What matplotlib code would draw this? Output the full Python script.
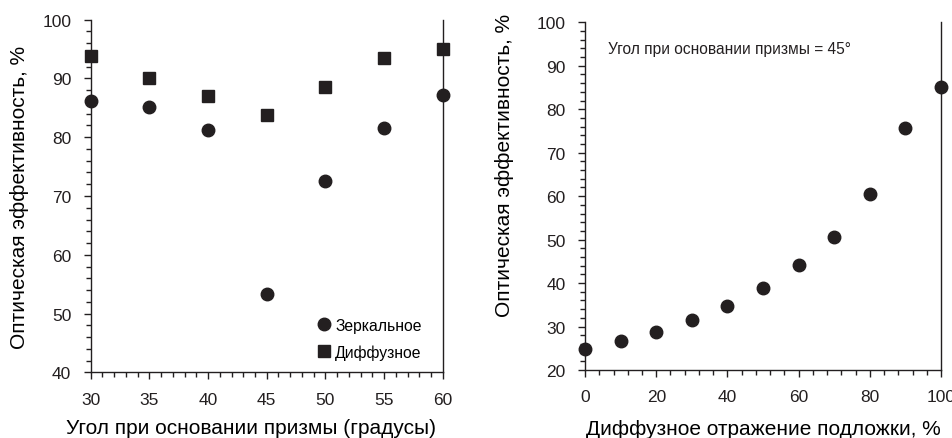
import matplotlib
matplotlib.use("Agg")
import matplotlib.pyplot as plt
from matplotlib.ticker import MultipleLocator

plt.rcParams['font.family'] = ['Liberation Sans', 'DejaVu Sans']

# left panel: prism base angle vs optical efficiency
angles = [30, 35, 40, 45, 50, 55, 60]
mirror = [86.1, 85.1, 81.3, 53.3, 72.5, 81.5, 87.2]
diffuse = [93.8, 90.1, 87.0, 83.7, 88.6, 93.5, 94.95]

# right panel: diffuse reflectance of substrate vs efficiency
reflect = [0, 10, 20, 30, 40, 50, 60, 70, 80, 90, 100]
eff45 = [24.9, 26.7, 28.8, 31.4, 34.7, 38.9, 44.2, 50.6, 60.4, 75.6, 85.2]

c = '#231f20'
fig = plt.figure(figsize=(9.53, 4.39), dpi=100)
ax1 = fig.add_axes([0.0952, 0.1497, 0.3694, 0.8031])
ax2 = fig.add_axes([0.6139, 0.1549, 0.3736, 0.7920])

ax1.plot(angles, mirror, 'o', color=c, ms=9, clip_on=False, zorder=3, label='Зеркальное')
ax1.plot(angles, diffuse, 's', color=c, ms=9, clip_on=False, zorder=3, label='Диффузное')
ax1.set_xlim(30, 60)
ax1.set_ylim(40, 100)
ax1.xaxis.set_major_locator(MultipleLocator(5))
ax1.xaxis.set_minor_locator(MultipleLocator(1))
ax1.yaxis.set_major_locator(MultipleLocator(10))
ax1.yaxis.set_minor_locator(MultipleLocator(2))
ax1.set_xlabel('Угол при основании призмы (градусы)', fontsize=15)
ax1.xaxis.set_label_coords(0.455, -0.13)
ax1.set_ylabel('Оптическая эффективность, %', fontsize=15)
ax1.yaxis.set_label_coords(-0.175, 0.5)
ax1.legend(loc='lower right', bbox_to_anchor=(0.94, 0.035), frameon=False, fontsize=11.3,
           handletextpad=0.1, labelspacing=0.75, handlelength=1.2,
           borderaxespad=0, borderpad=0)

ax2.plot(reflect, eff45, 'o', color=c, ms=9, clip_on=False, zorder=3)
ax2.set_xlim(0, 100)
ax2.set_ylim(20, 100)
ax2.xaxis.set_major_locator(MultipleLocator(20))
ax2.xaxis.set_minor_locator(MultipleLocator(4))
ax2.yaxis.set_major_locator(MultipleLocator(10))
ax2.yaxis.set_minor_locator(MultipleLocator(2))
ax2.set_xlabel('Диффузное отражение подложки, %', fontsize=15)
ax2.xaxis.set_label_coords(0.5, -0.14)
ax2.set_ylabel('Оптическая эффективность, %', fontsize=15)
ax2.yaxis.set_label_coords(-0.2, 0.59)
ax2.text(0.065, 0.925, 'Угол при основании призмы = 45°', transform=ax2.transAxes,
         fontsize=11.2, color=c, va='center')

for ax in (ax1, ax2):
    ax.spines['top'].set_visible(False)
    for s in ax.spines.values():
        s.set_color(c)
        s.set_linewidth(1.0)
    ax.tick_params(which='major', direction='out', length=5, width=1, color=c,
                   labelsize=12.5, pad=9, labelcolor=c)
    ax.tick_params(which='minor', direction='out', length=3.5, width=1, color=c)
    ax.tick_params(axis='y', which='both', right=False)

fig.savefig('out.png', dpi=100)
